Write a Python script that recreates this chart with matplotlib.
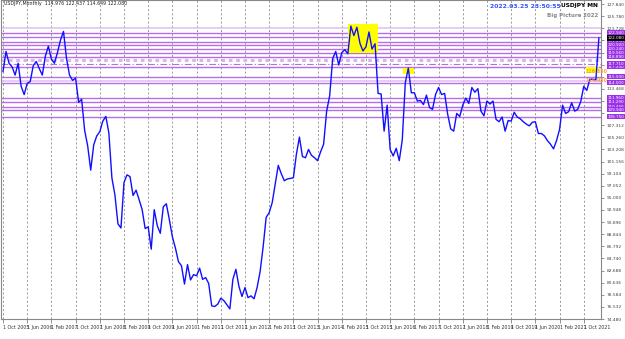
import matplotlib
matplotlib.use('Agg')
import matplotlib.pyplot as plt
from matplotlib.patches import Rectangle

# monthly closes USDJPY, Oct 2005 .. Mar 2022
closes = [
    116.4, 119.8, 117.8,
    117.2, 115.8, 117.8, 113.9, 112.5, 114.4, 114.7, 117.4, 118.1, 116.9, 115.8, 119.0,
    120.7, 118.5, 117.8, 119.6, 121.7, 123.2, 118.6, 115.8, 114.9, 115.3, 111.2, 111.7,
    106.4, 103.8, 99.7, 104.0, 105.5, 106.2, 108.0, 108.8, 106.0, 98.4, 95.5, 90.6,
    89.9, 97.6, 98.9, 98.6, 95.4, 96.3, 94.7, 93.0, 89.8, 90.1, 86.3, 93.0,
    90.3, 89.0, 93.5, 94.0, 91.3, 88.4, 86.5, 84.2, 83.5, 80.4, 83.7, 81.1,
    82.0, 81.8, 83.1, 81.2, 81.5, 80.5, 76.7, 76.6, 77.0, 78.0, 77.6, 76.9,
    76.2, 81.2, 82.9, 80.0, 78.3, 79.8, 78.1, 78.4, 77.9, 79.8, 82.5, 86.7,
    91.7, 92.5, 94.2, 97.4, 100.5, 99.1, 97.9, 98.2, 98.3, 98.4, 102.4, 105.3,
    102.0, 101.8, 103.2, 102.2, 101.8, 101.3, 102.8, 104.1, 109.7, 112.3, 118.6, 119.8,
    117.5, 119.6, 120.1, 119.4, 124.1, 122.5, 123.9, 121.2, 119.9, 120.6, 123.1, 120.2,
    121.1, 112.7, 112.6, 106.3, 110.7, 103.2, 102.1, 103.4, 101.3, 104.8, 114.5, 117.0,
    112.8, 112.8, 111.4, 111.5, 110.8, 112.4, 110.3, 110.0, 112.5, 113.7, 112.5, 112.7,
    109.2, 106.7, 106.3, 109.3, 108.8, 110.7, 111.9, 111.0, 113.7, 112.9, 113.5, 109.7,
    108.9, 111.4, 110.9, 111.4, 108.3, 107.9, 108.7, 106.3, 108.1, 108.0, 109.5, 108.7,
    108.4, 107.9, 107.5, 107.2, 107.8, 107.9, 105.9, 105.9, 105.5, 104.7, 104.1, 103.3,
    104.7, 106.6, 110.7, 109.3, 109.6, 111.1, 109.7, 110.0, 111.3, 113.9, 113.2, 115.1,
    115.1, 115.0, 122.08,
]

date_labels = ['1 Oct 2005', '1 Jun 2006', '1 Feb 2007', '1 Oct 2007', '1 Jun 2008',
               '1 Feb 2009', '1 Oct 2009', '1 Jun 2010', '1 Feb 2011', '1 Oct 2011',
               '1 Jun 2012', '1 Feb 2013', '1 Oct 2013', '1 Jun 2014', '1 Feb 2015',
               '1 Oct 2015', '1 Jun 2016', '1 Feb 2017', '1 Oct 2017', '1 Jun 2018',
               '1 Feb 2019', '1 Oct 2019', '1 Jun 2020', '1 Feb 2021', '1 Oct 2021']
date_months = list(range(0, 193, 8))

price_ticks = [74.480, 76.532, 78.584, 80.636, 82.688, 84.740, 86.792, 88.844, 90.896,
               92.948, 95.000, 97.052, 99.104, 101.156, 103.208, 105.260, 107.312,
               109.364, 111.416, 113.468, 115.520, 117.572, 119.624, 121.676, 123.728,
               125.780, 127.840]

# horizontal level lines (solid purple)
levels = [122.94, 122.27, 121.42, 120.92, 120.24, 119.56, 118.89, 117.20,
          115.50, 114.50, 111.96, 111.29, 110.44, 109.94, 108.75]
light_levels = [123.79, 114.75]
dotted_level = 118.38
dashdot_level = 117.71

# yellow highlight boxes: (month from, month to, price low, price high)
highlights = [(113.9, 124.1, 119.56, 124.46),
              (132.3, 136.0, 116.02, 117.03),
              (192.7, 197.0, 116.20, 117.20)]
orange_notes = [(116.35, '116.350'), (114.95, '114.950')]
last_price = 122.08

W, H = 625, 339
fig = plt.figure(figsize=(W / 100, H / 100), dpi=100)
ax = fig.add_axes([1 / W, 1 - 319 / H, 600 / W, 319 / H])

purple = '#b46ee6'
box_purple = '#9b30e8'

ax.set_xlim(-0.66, 197.7)
ax.set_ylim(74.63, 128.52)

for p in levels:
    ax.axhline(p, color=purple, lw=1, zorder=2)
for p in light_levels:
    ax.axhline(p, color='#e3c3f3', lw=1.2, zorder=2)
ax.axhline(dotted_level, color='#d9b3f0', lw=2.2, ls=(0, (1.2, 1.2)), zorder=2)
ax.axhline(dashdot_level, color=purple, lw=0.8, ls=(0, (6, 2, 1, 2)), zorder=2)

for m0, m1, lo, hi in highlights:
    ax.add_patch(Rectangle((m0, lo), m1 - m0, hi - lo, color='#ffff00', lw=0, zorder=3))

ax.plot(range(len(closes)), closes, color='#1010ff', lw=1, zorder=4)

for p, t in orange_notes:
    ax.text(192.7, p, t, color='#ff9c40', fontsize=3.4, fontweight='bold', va='center', zorder=5)

# axes styling
ax.set_xticks(date_months)
ax.set_xticklabels(date_labels, fontsize=3.4, ha='left', color='#333333')
ax.tick_params(axis='x', length=3, width=0.5, pad=1.5, color='#666666')
ax.yaxis.tick_right()
ax.set_yticks(price_ticks)
# labels sitting under the level boxes are hidden on the terminal's scale
boxed = levels + [dashdot_level, last_price]
tick_text = ['' if min(abs(v - b) for b in boxed) < 0.75 else f'{v:.3f}' for v in price_ticks]
ax.set_yticklabels(tick_text, fontsize=3.2, color='#444444')
ax.tick_params(axis='y', length=2, width=0.5, pad=2, color='#666666')
ax.grid(axis='x', color='#8a8a8a', lw=0.6, ls=(0, (2.5, 2.5)))
for s in ax.spines.values():
    s.set_color('#888888')
    s.set_linewidth(0.8)

# purple price boxes on the right scale
ytr = ax.get_yaxis_transform()
for p in levels + [dashdot_level]:
    ax.text(1.011, p, f'{p:.3f}', transform=ytr, fontsize=3.0, color='white',
            va='center', ha='left', clip_on=False, zorder=6,
            bbox=dict(boxstyle='square,pad=0.15', fc=box_purple, ec='none'))
ax.text(1.011, last_price, f'{last_price:.3f}', transform=ytr, fontsize=3.0, color='white',
        va='center', ha='left', clip_on=False, zorder=7,
        bbox=dict(boxstyle='square,pad=0.15', fc='black', ec='none'))

# header texts
fig.text(4 / W, 1 - 4 / H, 'USDJPY,Monthly  114.976 122.437 114.649 122.080',
         fontsize=3.4, color='#222222', va='center')
fig.text(490 / W, 1 - 6 / H, '2022.03.25 23:50:55', fontsize=4.4, color='#3355ff',
         fontweight='bold', va='center')
fig.text(598 / W, 1 - 6 / H, 'USDJPY MN', fontsize=4.2, color='black',
         fontweight='bold', va='center', ha='right')
fig.text(598 / W, 1 - 15 / H, 'Big Picture 2022', fontsize=4.0, color='#888888',
         fontweight='bold', va='center', ha='right')

fig.savefig('out.png', dpi=100, facecolor='white')
